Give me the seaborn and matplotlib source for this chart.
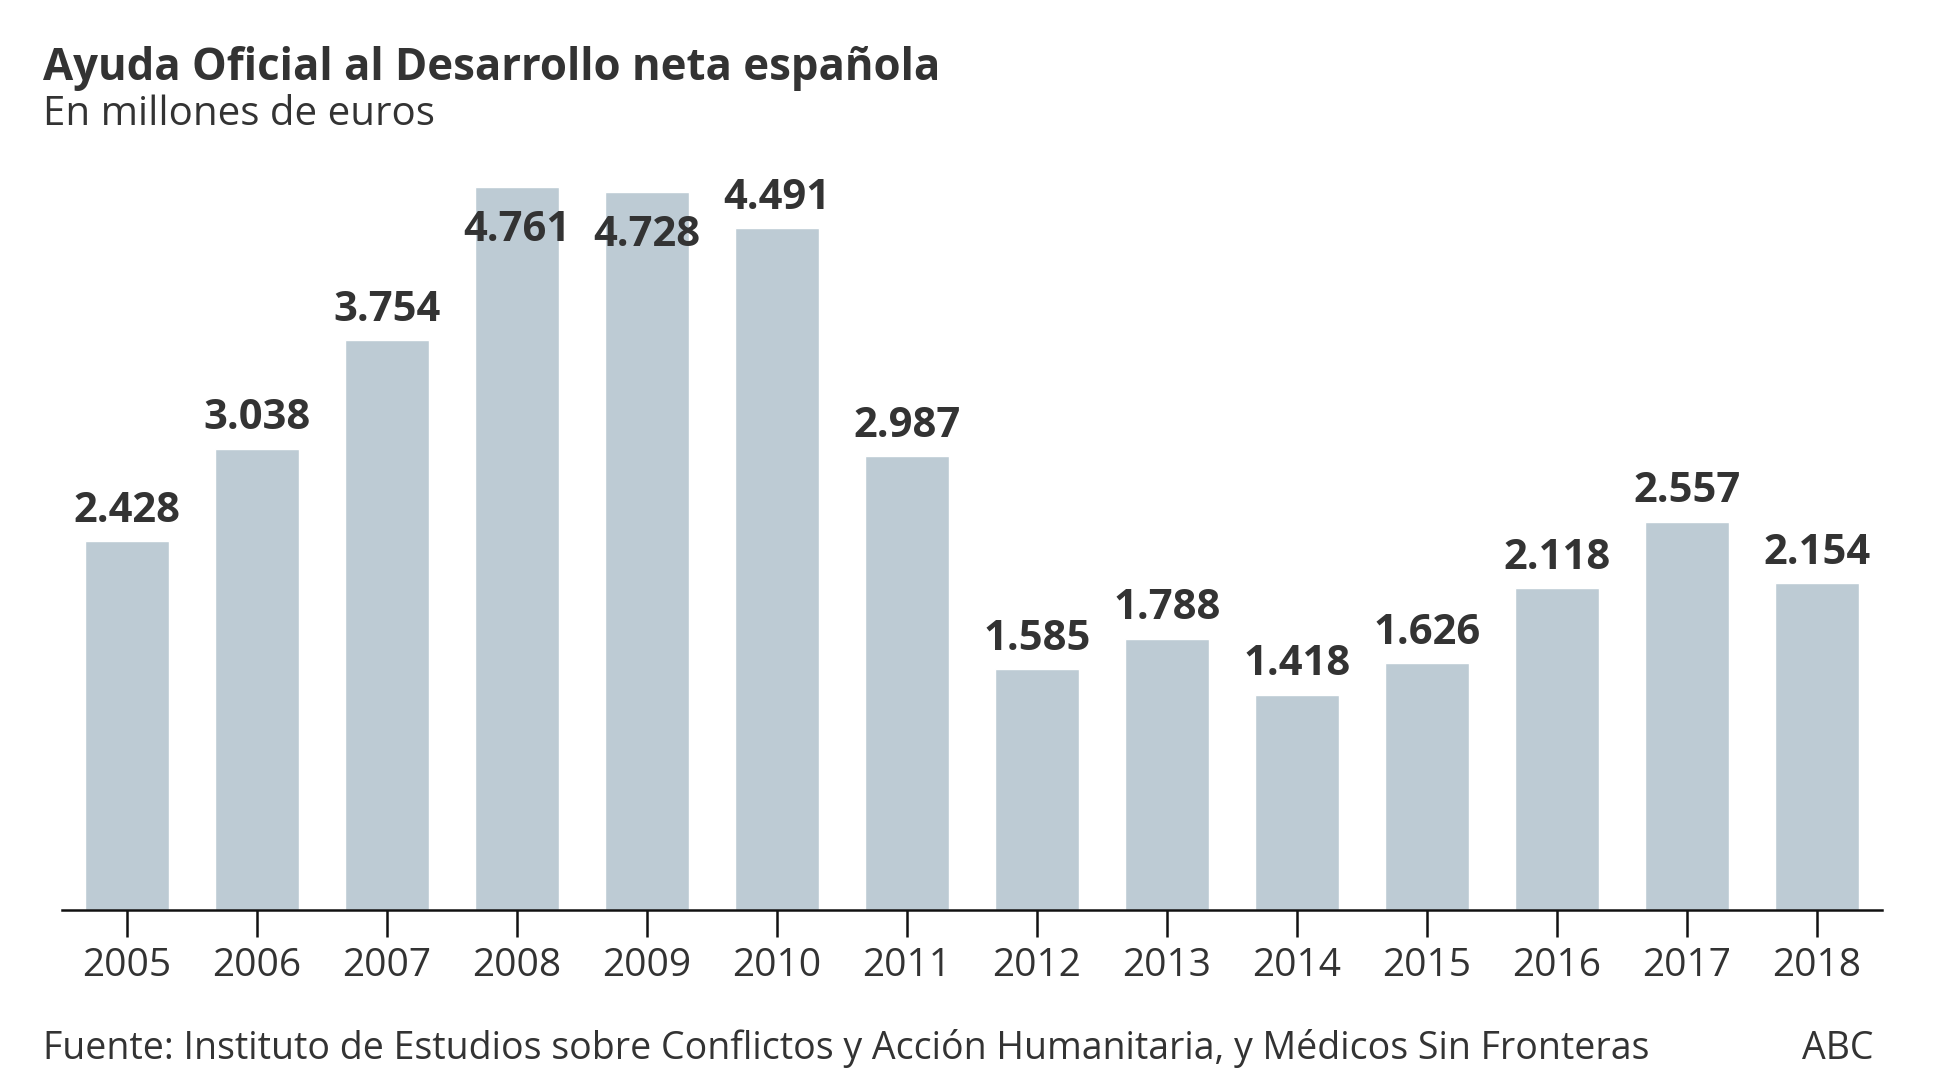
import matplotlib
matplotlib.use('Agg')
import matplotlib.pyplot as plt
import seaborn as sns
import pandas as pd

# Datos: AOD neta española, millones de euros
years = ['2005', '2006', '2007', '2008', '2009', '2010', '2011',
         '2012', '2013', '2014', '2015', '2016', '2017', '2018']
values = [2428, 3038, 3754, 4761, 4728, 4491, 2987,
          1585, 1788, 1418, 1626, 2118, 2557, 2154]

BAR_COLOR = '#bdcbd4'
TEXT_COLOR = '#333333'

df = pd.DataFrame({'year': years, 'value': values})

sns.set_style('white')
plt.rcParams['font.family'] = ['Open Sans', 'DejaVu Sans']

fig = plt.figure(figsize=(19.37, 10.9), dpi=100)
ax = fig.add_axes([0.032, 0.165, 0.9396, 0.6634])

sns.barplot(data=df, x='year', y='value', color=BAR_COLOR, width=0.65,
            saturation=1, ax=ax)

ymax = max(values)
ax.set_ylim(0, ymax)
ax.set_xlim(-0.5, len(years) - 0.5)

# Etiquetas de valor: encima de la barra, o dentro si no caben
for i, v in enumerate(values):
    label = f"{v:,}".replace(',', '.')
    if v > 0.95 * ymax:
        ax.annotate(label, (i, v), xytext=(0, -39), textcoords='offset points',
                    ha='center', va='baseline', fontsize=30, fontweight='bold',
                    color=TEXT_COLOR)
    else:
        ax.annotate(label, (i, v), xytext=(0, 14), textcoords='offset points',
                    ha='center', va='baseline', fontsize=30, fontweight='bold',
                    color=TEXT_COLOR, annotation_clip=False)

# Ejes
for side in ['left', 'right', 'top']:
    ax.spines[side].set_visible(False)
ax.spines['bottom'].set_linewidth(1.8)
ax.spines['bottom'].set_color('#111111')
ax.set_yticks([])
ax.set_xlabel('')
ax.set_ylabel('')
ax.tick_params(axis='x', length=19.5, width=1.8, color='#111111', pad=7,
               labelsize=28, labelcolor=TEXT_COLOR, bottom=True)

# Textos
fig.text(0.0222, 0.927, 'Ayuda Oficial al Desarrollo neta española',
         fontsize=31.5, fontweight='bold', color=TEXT_COLOR, va='baseline')
fig.text(0.0222, 0.885, 'En millones de euros',
         fontsize=29, color=TEXT_COLOR, va='baseline')
fig.text(0.0222, 0.0285,
         'Fuente: Instituto de Estudios sobre Conflictos y Acción Humanitaria, y Médicos Sin Fronteras',
         fontsize=27, color=TEXT_COLOR, va='baseline')
fig.text(0.967, 0.0285, 'ABC', fontsize=27, color=TEXT_COLOR,
         va='baseline', ha='right')

fig.savefig('out.png', dpi=100)
